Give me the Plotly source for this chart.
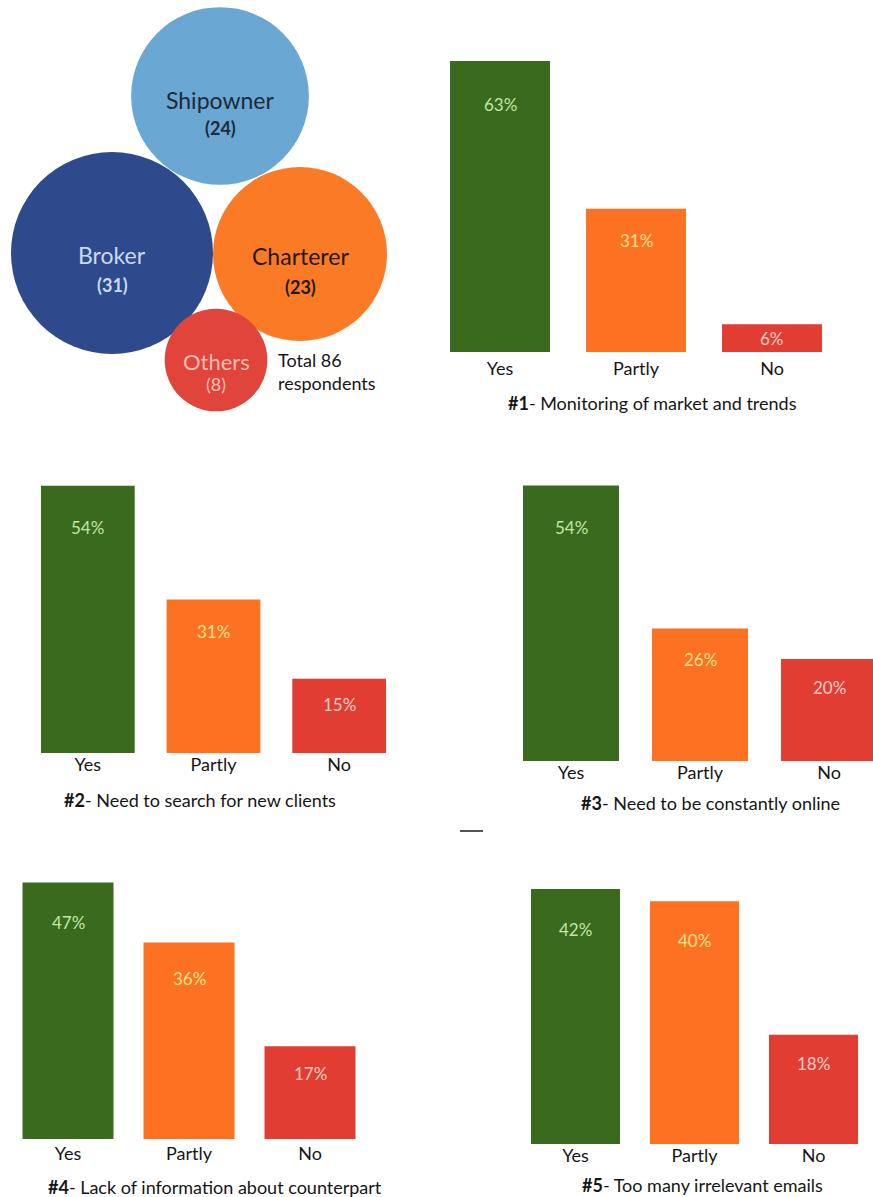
import plotly.graph_objects as go

W, H = 873, 1197

# ---- survey data ----
roles = ["Shipowner", "Broker", "Charterer", "Others"]
role_counts = [24, 31, 23, 8]
total_respondents = 86

answers = ["Yes", "Partly", "No"]
q1_pct = [63, 31, 6]
q2_pct = [54, 31, 15]
q3_pct = [54, 26, 20]
q4_pct = [47, 36, 17]
q5_pct = [42, 40, 18]
question_ids = ["#1", "#2", "#3", "#4", "#5"]
question_titles = [
    "Monitoring of market and trends",
    "Need to search for new clients",
    "Need to be constantly online",
    "Lack of information about counterpart",
    "Too many irrelevant emails",
]
question_values = [q1_pct, q2_pct, q3_pct, q4_pct, q5_pct]

# ---- styling ----
FONT = "Lato"
TEXT = "#161616"
bar_colors = ["#3a6a1e", "#fc7222", "#e23d33"]
pct_label_colors = ["#c2e6a6", "#fbe08c", "#f8cdc6"]
role_colors = ["#6aa7d3", "#2e4a8c", "#fb7a25", "#e1443a"]
role_text_colors = ["#1d2a38", "#cad9f4", "#231a12", "#f7bdb5"]

# panel geometry in pixels: left, right, baseline, px per %, bar width fraction,
# x-range end, title centre, tick standoff
panels = [
    dict(left=432, right=840, base=352, scale=4.62, bw=0.735, xend=2.5, tx=652, ty=403, so=4),
    dict(left=25, right=402, base=753, scale=4.95, bw=0.746, xend=2.5, tx=200, ty=800, so=-1),
    dict(left=506.5, right=873, base=761, scale=5.10, bw=0.744, xend=2.5 - 20.5 / 129, tx=710, ty=803, so=-1),
    dict(left=7.5, right=370.5, base=1139, scale=5.46, bw=0.752, xend=2.5, tx=215, ty=1187, so=2),
    dict(left=516, right=873, base=1144, scale=6.07, bw=0.748, xend=2.5, tx=702, ty=1185, so=-1),
]


def fx(px):
    return px / W


def fy(py):
    return 1 - py / H


fig = go.Figure()
annotations = []
layout_axes = {}

for i, (vals, qid, title, p) in enumerate(zip(question_values, question_ids, question_titles, panels), start=1):
    xa, ya = f"x{i}", f"y{i}"
    top = p["base"] - 70 * p["scale"]
    fig.add_trace(go.Bar(
        x=answers, y=vals, xaxis=xa, yaxis=ya,
        width=p["bw"],
        marker=dict(color=bar_colors, line=dict(width=0)),
        showlegend=False, hoverinfo="x+y",
    ))
    layout_axes[f"xaxis{i}"] = dict(
        domain=[fx(p["left"]), fx(p["right"])],
        range=[-0.5, p["xend"]],
        type="category", showgrid=False, zeroline=False, showline=False,
        ticks="", ticklabelstandoff=p["so"],
        tickfont=dict(family=FONT, size=18, color=TEXT),
        anchor=ya, fixedrange=True,
    )
    layout_axes[f"yaxis{i}"] = dict(
        domain=[fy(p["base"]), fy(top)],
        range=[0, (p["base"] - top) / p["scale"]],
        visible=False, anchor=xa, fixedrange=True,
    )
    # value labels inside the bars, a little below each bar top
    for cat, v, col in zip(answers, vals, pct_label_colors):
        h = v * p["scale"]
        offset = min(h / 2, 20 + 0.08 * h)
        annotations.append(dict(
            x=cat, y=v, xref=xa, yref=ya, text=f"{v}%", showarrow=False,
            yanchor="middle", yshift=-offset,
            font=dict(family=FONT, size=17, color=col),
        ))
    annotations.append(dict(
        x=fx(p["tx"]), y=fy(p["ty"]), xref="paper", yref="paper",
        text=f"<b>{qid}</b>- {title}", showarrow=False, xanchor="center", yanchor="middle",
        font=dict(family=FONT, size=18, color=TEXT),
    ))

# ---- bubble chart of respondent roles (pixel-space axis) ----
bubble_centres = [(220, 96), (112, 253), (300, 254), (216, 360)]
max_diam = 202
fig.add_trace(go.Scatter(
    x=[c[0] for c in bubble_centres], y=[c[1] for c in bubble_centres],
    xaxis="x6", yaxis="y6", mode="markers",
    marker=dict(size=role_counts, sizemode="area",
                sizeref=2 * max(role_counts) / max_diam ** 2,
                color=role_colors, opacity=1, line=dict(width=0)),
    text=roles, hoverinfo="text", showlegend=False,
))
layout_axes["xaxis6"] = dict(domain=[0, 1], range=[0, W], visible=False, anchor="y6", fixedrange=True)
layout_axes["yaxis6"] = dict(domain=[0, 1], range=[H, 0], visible=False, anchor="x6", fixedrange=True)

name_sizes = [23, 23, 23, 22]
name_dy = [4, 2, 2, 1]
count_dy = [32, 32, 33, 24]
count_sizes = [18, 18, 18, 18]
count_bold = [True, True, True, False]
for k, ((cx, cy), name, n, tc) in enumerate(zip(bubble_centres, roles, role_counts, role_text_colors)):
    annotations.append(dict(
        x=cx, y=cy + name_dy[k], xref="x6", yref="y6", text=name, showarrow=False,
        font=dict(family=FONT, size=name_sizes[k], color=tc),
    ))
    cnt = f"<b>({n})</b>" if count_bold[k] else f"({n})"
    annotations.append(dict(
        x=cx, y=cy + count_dy[k], xref="x6", yref="y6", text=cnt,
        showarrow=False, font=dict(family=FONT, size=count_sizes[k], color=tc),
    ))
annotations.append(dict(
    x=276, y=371, xref="x6", yref="y6", xanchor="left", yanchor="middle",
    text=f"Total {total_respondents}<br>respondents", showarrow=False, align="left",
    font=dict(family=FONT, size=18, color=TEXT),
))

fig.add_shape(type="line", xref="paper", yref="paper",
              x0=fx(460), x1=fx(483), y0=fy(831), y1=fy(831),
              line=dict(color="#555555", width=2))

fig.update_layout(
    width=W, height=H,
    margin=dict(l=0, r=0, t=0, b=0),
    paper_bgcolor="white", plot_bgcolor="rgba(0,0,0,0)",
    annotations=annotations,
    showlegend=False,
    **layout_axes,
)

fig.write_html("out.html", config={"displayModeBar": False})
